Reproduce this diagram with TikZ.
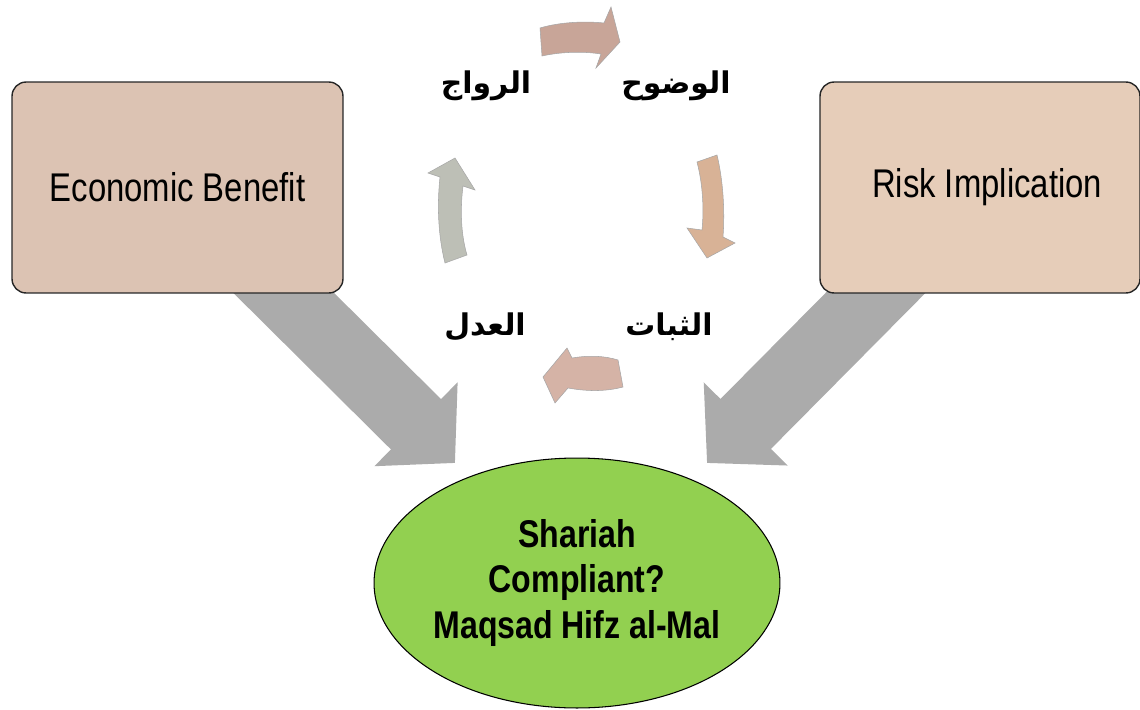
\documentclass[tikz,border=0pt]{standalone}
\usepackage{fontspec}
\usepackage{tikz}
\usetikzlibrary{arrows.meta,shapes.geometric,positioning,backgrounds}
\TeXXeTstate=1
\newfontfamily\narrowsans[FakeStretch=0.82]{Liberation Sans}
\newfontfamily\goalsans[FakeStretch=0.83]{Liberation Sans}
\newfontfamily\arabicfont[Script=Arabic]{DejaVu Sans}
\definecolor{boxleft}{HTML}{DCC3B3}
\definecolor{boxright}{HTML}{E6CDB9}
\definecolor{goalgreen}{HTML}{92D050}
\definecolor{bigarrgray}{HTML}{ABABAB}

\begin{document}
\begin{tikzpicture}[x=0.02cm, y=-0.02cm,
    box/.style={draw=black!85, line width=0.8pt, rounded corners=8pt, minimum width=6.62cm, minimum height=4.22cm, align=center, font=\narrowsans\fontsize{22.8}{26}\selectfont},
    goal/.style={ellipse, draw=black, line width=0.6pt, fill=goalgreen, minimum width=8.12cm, minimum height=5cm, inner sep=0pt, align=center, font=\goalsans\bfseries\fontsize{22}{26}\selectfont},
    bigarr/.style={draw=bigarrgray, line width=1.42cm, -{Triangle[length=1.1cm, width=2.3cm]}},
    cyc/.style={draw=black!35, line width=0.3pt},
    lbl/.style={font=\arabicfont\bfseries\fontsize{17}{22}\selectfont, inner sep=0pt}
]
\useasboundingbox (0,0) rectangle (1140,710);

% boxes and goal
\node[box, fill=boxleft] (econ) at (177.5,187.5) {Economic Benefit};
\node[box, fill=boxright, minimum width=6.4cm] (risk) at (980,187.5) {\hspace*{8pt}Risk Implication};
\node[goal] (shariah) at (577,583) {Shariah\\Compliant?\\Maqsad Hifz al-Mal};

\coordinate (ltip) at (455,463);
\coordinate (rtip) at (707,463);

\begin{scope}[on background layer]
\draw[bigarr] (econ.center) -- (ltip);
\draw[bigarr] (risk.center) -- (rtip);
\end{scope}

% cycle labels
\node[lbl] (rawaj) at (486,86) {\beginR الرواج\endR};
\node[lbl] (wudooh) at (676,86) {\beginR الوضوح\endR};
\node[lbl] (thabat) at (669,327) {\beginR الثبات\endR};
\node[lbl] (adl) at (485,327) {\beginR العدل\endR};

% cycle arrows
\fill[cyc, fill={rgb,255:red,200;green,165;blue,152}] (540,28) .. controls (560,22) and (585,21) .. (604,23) -- (611,7) -- (620,42) -- (596,68) -- (601,54) .. controls (582,51) and (560,52) .. (542,56) -- cycle;
\fill[cyc, fill={rgb,255:red,216;green,178;blue,150}] (697,162) .. controls (703,185) and (704,210) .. (702,230) -- (687,228) -- (707,258) -- (735,243) -- (723,237) .. controls (725,210) and (723,180) .. (717,155) -- cycle;
\fill[cyc, fill={rgb,255:red,213;green,179;blue,166}] (618,360) .. controls (605,356) and (590,355) .. (572,358) -- (567,348) -- (543,377) -- (555,403) -- (568,388) .. controls (590,392) and (608,391) .. (623,387) -- cycle;
\fill[cyc, fill={rgb,255:red,189;green,191;blue,182}] (445,263) .. controls (438,235) and (437,205) .. (440,177) -- (428,173) -- (455,158) -- (475,190) -- (463,186) .. controls (460,210) and (461,235) .. (467,255) -- cycle;
\end{tikzpicture}
\end{document}
